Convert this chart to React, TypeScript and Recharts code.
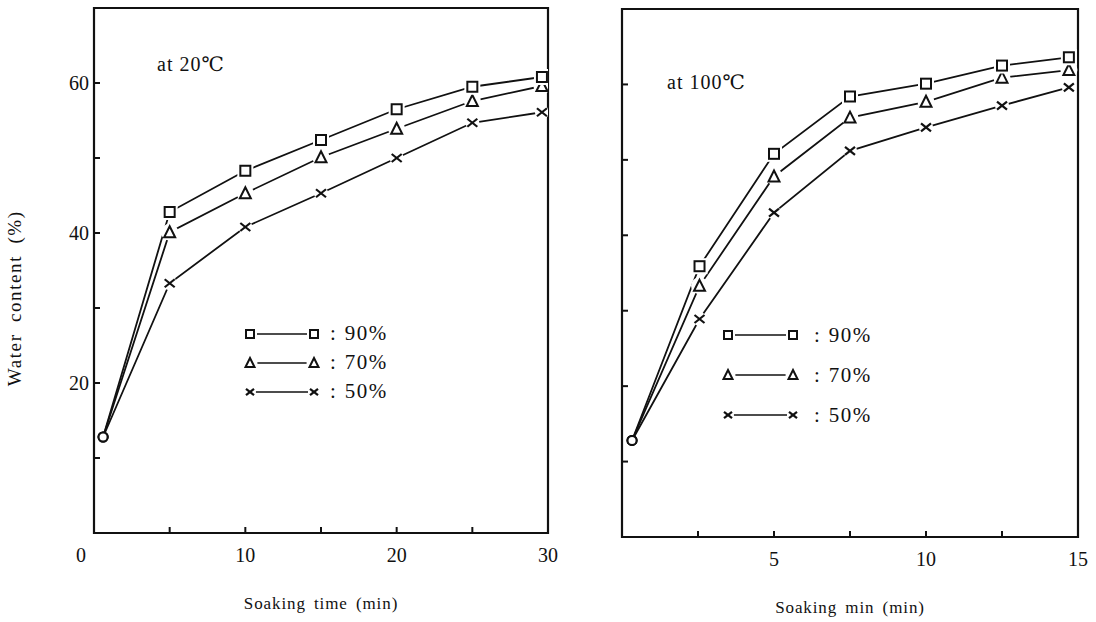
import { LineChart, Line, XAxis, YAxis, ReferenceArea, Label, Legend } from "recharts"

// soaking time (min) and water content (%)
const leftTime = [0.6, 5, 10, 15, 20, 25, 29.6]
const left90 = [12.8, 42.8, 48.3, 52.4, 56.5, 59.5, 60.8]
const left70 = [12.8, 40.1, 45.3, 50.1, 53.9, 57.6, 59.6]
const left50 = [12.8, 33.3, 40.8, 45.3, 50.0, 54.7, 56.1]

const rightTime = [0.33, 2.55, 5, 7.5, 10, 12.5, 14.7]
const right90 = [12.8, 35.9, 50.8, 58.4, 60.1, 62.5, 63.6]
const right70 = [12.8, 33.3, 47.8, 55.6, 57.7, 60.9, 61.9]
const right50 = [12.8, 28.9, 43.0, 51.2, 54.3, 57.2, 59.6]

const yTicks = [0, 10, 20, 30, 40, 50, 60, 70]
const yLabels = [20, 40, 60]
const leftXTicks = [0, 5, 10, 15, 20, 25, 30]
const leftXLabels = [0, 10, 20, 30]
const rightXTicks = [0, 2.5, 5, 7.5, 10, 12.5, 15]
const rightXLabels = [5, 10, 15]

const seriesNames = ["90%", "70%", "50%"]

const FONT = "'Liberation Serif', 'DejaVu Serif', serif"
const INK = "#111"

type Kind = "square" | "triangle" | "cross" | "circle"

function Marker({ cx, cy, kind, s = 10 }: { cx: number; cy: number; kind: Kind; s?: number }) {
  if (cx == null || cy == null) return null
  const h = s / 2
  if (kind === "square") {
    return (
      <g>
        <rect x={cx - h - 3} y={cy - h - 3} width={s + 6} height={s + 6} fill="#fff" />
        <rect x={cx - h} y={cy - h} width={s} height={s} fill="#fff" stroke={INK} strokeWidth={2} />
      </g>
    )
  }
  if (kind === "triangle") {
    return (
      <g>
        <circle cx={cx} cy={cy} r={h + 3.5} fill="#fff" />
        <polygon
          points={`${cx},${cy - h - 1} ${cx + h + 0.5},${cy + h} ${cx - h - 0.5},${cy + h}`}
          fill="#fff"
          stroke={INK}
          strokeWidth={2}
        />
      </g>
    )
  }
  if (kind === "cross") {
    return (
      <g>
        <circle cx={cx} cy={cy} r={h + 2} fill="#fff" />
        <line x1={cx - h} y1={cy - h * 0.8} x2={cx + h} y2={cy + h * 0.8} stroke={INK} strokeWidth={2.2} />
        <line x1={cx - h} y1={cy + h * 0.8} x2={cx + h} y2={cy - h * 0.8} stroke={INK} strokeWidth={2.2} />
      </g>
    )
  }
  return <circle cx={cx} cy={cy} r={4.5} fill="#fff" stroke={INK} strokeWidth={2} />
}

const dotFor = (kind: Kind) => (p: any) => (
  <Marker key={`${kind}-${p.index}`} cx={p.cx} cy={p.cy} kind={p.index === 0 ? "circle" : kind} />
)

function makeYTick(showLabels: boolean) {
  return (p: any) => {
    const v = p.payload.value
    if (v === 0 || v === 70) return <g />
    return (
      <g>
        <line x1={p.x} x2={p.x + 6} y1={p.y} y2={p.y} stroke={INK} strokeWidth={2} />
        {showLabels && yLabels.includes(v) && (
          <text x={p.x - 5} y={p.y} dy="0.36em" textAnchor="end" fontFamily={FONT} fontSize={20} fill={INK}>
            {v}
          </text>
        )}
      </g>
    )
  }
}

function makeXTick(labels: number[], last: number) {
  return (p: any) => {
    const v = p.payload.value
    const showLine = v !== 0 && v !== last
    return (
      <g>
        {showLine && <line x1={p.x} x2={p.x} y1={p.y} y2={p.y - 6} stroke={INK} strokeWidth={2} />}
        {labels.includes(v) && (
          <text
            x={v === 0 ? p.x - 13 : p.x}
            y={p.y + 15}
            dy="0.71em"
            textAnchor="middle"
            fontFamily={FONT}
            fontSize={20}
            fill={INK}
          >
            {v}
          </text>
        )}
      </g>
    )
  }
}

function YTitle({ viewBox }: any) {
  const x = viewBox.x + viewBox.width - 79
  const y = viewBox.y + viewBox.height * 0.553
  return (
    <text
      x={x}
      y={y}
      transform={`rotate(-90, ${x}, ${y})`}
      textAnchor="middle"
      dominantBaseline="central"
      fontFamily={FONT}
      fontSize={19}
      letterSpacing={1.6}
      wordSpacing={5}
      fill={INK}
    >
      Water content (%)
    </text>
  )
}

function LegendBox({ rowGap, lineLen, colonGap }: { rowGap: number; lineLen: number; colonGap: number }) {
  const kinds: Kind[] = ["square", "triangle", "cross"]
  return (
    <div style={{ fontFamily: FONT, color: INK }}>
      {seriesNames.map((name, i) => (
        <div key={name} style={{ display: "flex", alignItems: "center", height: rowGap }}>
          <svg width={lineLen + 24} height={20} style={{ overflow: "visible" }}>
            <line x1={6} x2={lineLen + 12} y1={10} y2={10} stroke={INK} strokeWidth={1.5} />
            <Marker cx={6} cy={10} kind={kinds[i]} s={8} />
            <Marker cx={lineLen + 18} cy={10} kind={kinds[i]} s={8} />
          </svg>
          <span style={{ fontSize: 21, marginLeft: colonGap, lineHeight: 1 }}>:</span>
          <span style={{ fontSize: 21, marginLeft: 9, lineHeight: 1, letterSpacing: 1.5 }}>{name}</span>
        </div>
      ))}
    </div>
  )
}

interface PanelProps {
  time: number[]
  s90: number[]
  s70: number[]
  s50: number[]
  xMax: number
  xTicks: number[]
  xLabels: number[]
  xTitle: string
  showYLabels: boolean
  width: number
  margin: { top: number; left: number; right: number; bottom: number }
  legendPos: { left: number; top: number }
  legendRow: number
  legendLine: number
  legendColon: number
}

function Panel(props: PanelProps) {
  const rows = props.time.map((t, i) => ({
    t,
    h90: props.s90[i],
    h70: props.s70[i],
    h50: props.s50[i],
  }))
  return (
    <LineChart width={props.width} height={622} data={rows} margin={props.margin}>
      <XAxis
        dataKey="t"
        type="number"
        domain={[0, props.xMax]}
        ticks={props.xTicks}
        interval={0}
        height={1}
        tickSize={0}
        tickMargin={0}
        axisLine={false}
        tickLine={false}
        tick={makeXTick(props.xLabels, props.xMax)}
        allowDataOverflow
      >
        <Label
          value={props.xTitle}
          position="bottom"
          offset={63}
          fontFamily={FONT}
          fontSize={17}
          letterSpacing={0.9}
          wordSpacing={3}
          fill={INK}
        />
      </XAxis>
      <YAxis
        type="number"
        domain={[0, 70]}
        ticks={yTicks}
        interval={0}
        width={1}
        tickSize={0}
        tickMargin={0}
        axisLine={false}
        tickLine={false}
        tick={makeYTick(props.showYLabels)}
        allowDataOverflow
      >
        {props.showYLabels && <Label content={YTitle} />}
      </YAxis>
      <ReferenceArea x1={0} x2={props.xMax} y1={0} y2={70} fill="none" stroke={INK} strokeWidth={2.2} />
      <Line type="linear" dataKey="h50" stroke={INK} strokeWidth={1.8} dot={dotFor("cross")} isAnimationActive={false} />
      <Line type="linear" dataKey="h70" stroke={INK} strokeWidth={1.8} dot={dotFor("triangle")} isAnimationActive={false} />
      <Line type="linear" dataKey="h90" stroke={INK} strokeWidth={1.8} dot={dotFor("square")} isAnimationActive={false} />
      <Legend
        layout="horizontal"
        verticalAlign="middle"
        align="center"
        wrapperStyle={{ left: props.legendPos.left, top: props.legendPos.top, width: "auto" }}
        content={() => (
          <LegendBox rowGap={props.legendRow} lineLen={props.legendLine} colonGap={props.legendColon} />
        )}
      />
    </LineChart>
  )
}

export default function App() {
  return (
    <div style={{ position: "absolute", left: 0, top: 0, width: 1096, height: 622, background: "#fff" }}>
      <div style={{ position: "absolute", left: 0, top: 0 }}>
        <Panel
          time={leftTime}
          s90={left90}
          s70={left70}
          s50={left50}
          xMax={30}
          xTicks={leftXTicks}
          xLabels={leftXLabels}
          xTitle="Soaking time (min)"
          showYLabels
          width={560}
          margin={{ top: 8, left: 93, right: 12, bottom: 88 }}
          legendPos={{ left: 244, top: 319 }}
          legendRow={29}
          legendLine={52}
          legendColon={10}
        />
      </div>
      <div style={{ position: "absolute", left: 560, top: 0 }}>
        <Panel
          time={rightTime}
          s90={right90}
          s70={right70}
          s50={right50}
          xMax={15}
          xTicks={rightXTicks}
          xLabels={rightXLabels}
          xTitle="Soaking min (min)"
          showYLabels={false}
          width={536}
          margin={{ top: 9, left: 61, right: 18, bottom: 84 }}
          legendPos={{ left: 162, top: 315 }}
          legendRow={40}
          legendLine={53}
          legendColon={15}
        />
      </div>
      <div style={{ position: "absolute", left: 157, top: 54, fontFamily: FONT, fontSize: 20, letterSpacing: 1, color: INK, lineHeight: 1 }}>
        at 20℃
      </div>
      <div style={{ position: "absolute", left: 667, top: 72, fontFamily: FONT, fontSize: 20, letterSpacing: 1, color: INK, lineHeight: 1 }}>
        at 100℃
      </div>
    </div>
  )
}
